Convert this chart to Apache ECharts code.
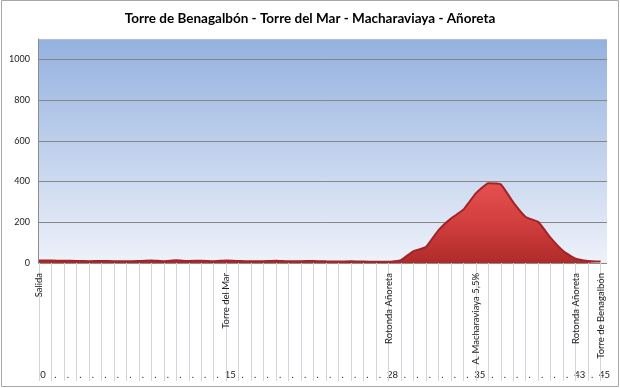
<!DOCTYPE html>
<html>
<head>
<meta charset="utf-8">
<script src="https://cdn.jsdelivr.net/npm/echarts@6/dist/echarts.min.js"></script>
<style>html,body{margin:0;padding:0;background:#fff}#c{width:620px;height:388px}</style>
</head>
<body>
<div id="c"></div>
<script>
const categories = ['0','1','2','3','4','5','6','7','8','9','10','11','12','13','14','15','16','17','18','19','20','21','22','23','24','25','26','27','28','29','30','31','32','33','34','35','36','37','38','39','40','41','42','43','44','45'];
const placeNames = ['Salida','','','','','','','','','','','','','','','Torre del Mar','','','','','','','','','','','','','Rotonda Añoreta','','','','','','','A. Macharaviaya 5,5%','','','','','','','','Rotonda Añoreta','','Torre de Benagalbón'];
const kmLabels = ['0','.','.','.','.','.','.','.','.','.','.','.','.','.','.','15','.','.','.','.','.','.','.','.','.','.','.','.','28','.','.','.','.','.','.','35','.','.','.','.','.','.','.','43','.','45'];
const elevation = [12,12,11,10,9,10,9,8,10,12,9,13,10,11,9,12,10,8,9,11,8,9,10,8,7,8,7,6,6,14,58,78,160,218,262,342,392,386,298,226,202,123,59,21,10,7];
const yTicks = [0,200,400,600,800,1000];

const FONT = 'Lato';
const chart = echarts.init(document.getElementById('c'), null, {renderer:'canvas'});
chart.setOption({
  animation:false,
  backgroundColor:'#fff',
  title:{
    text:'Torre de Benagalbón - Torre del Mar - Macharaviaya - Añoreta',
    left:'center', top:7,
    textStyle:{fontFamily:FONT, fontWeight:'bold', fontSize:13.5, color:'#000'}
  },
  graphic:[
    {type:'rect', z:-20, silent:true, shape:{x:1.5,y:0.5,width:617,height:386}, style:{fill:'#fff', stroke:'#a8a8a8', lineWidth:1}}
  ],
  grid:[
    {left:39, top:39, width:561.6, height:224, containLabel:false},
    {left:38.5, top:39, width:568.5, height:224, containLabel:false, show:true, borderWidth:0,
     backgroundColor:new echarts.graphic.LinearGradient(0,0,0,1,[{offset:0,color:'#94b1df'},{offset:1,color:'#eef2fa'}])}
  ],
  xAxis:[
    {type:'category', data:categories, boundaryGap:false, gridIndex:0, z:3,
     axisLine:{show:true, lineStyle:{color:'#8c8c8c'}},
     axisTick:{show:true, interval:0, length:118, lineStyle:{color:'#d2d6dc'}},
     axisLabel:{interval:0, rotate:90, margin:10, fontFamily:FONT, fontSize:9.5, color:'#222', padding:[6,0,0,0],
       formatter:(v,i)=>placeNames[i]},
     splitLine:{show:false}},
    {type:'category', data:categories, boundaryGap:false, gridIndex:0, position:'bottom', offset:103,
     axisLine:{show:false}, axisTick:{show:false},
     axisLabel:{interval:0, margin:4, fontFamily:FONT, fontSize:9.5, color:'#222', padding:[0,0,0,8],
       formatter:(v,i)=>kmLabels[i]}},
    {type:'value', gridIndex:1, min:0, max:1, show:false}
  ],
  yAxis:[
    {type:'value', gridIndex:0, min:0, max:1100, interval:200,
     axisLine:{show:false}, axisTick:{show:false},
     axisLabel:{fontFamily:FONT, fontSize:9, color:'#222', margin:9, showMaxLabel:false,
       formatter:(v)=> yTicks.indexOf(v)>=0 ? String(v) : ''},
     splitLine:{show:false}},
    {type:'value', gridIndex:1, min:0, max:1100, interval:200,
     axisLine:{show:true, lineStyle:{color:'#8c8c8c'}}, axisTick:{show:false}, axisLabel:{show:false},
     splitLine:{show:true, lineStyle:{color:['#868686','#868686','#868686','#868686','#868686','#868686','#b5bfcc'], width:1}}}
  ],
  series:[{
    type:'line', data:elevation, xAxisIndex:0, yAxisIndex:0, smooth:0.12, symbol:'none', z:5,
    lineStyle:{color:'#a22426', width:2},
    areaStyle:{opacity:1, color:new echarts.graphic.LinearGradient(0,0,0,1,[{offset:0,color:'#e65050'},{offset:0.5,color:'#d13e3e'},{offset:1,color:'#b02a2a'}])}
  }]
});
</script>
</body>
</html>
